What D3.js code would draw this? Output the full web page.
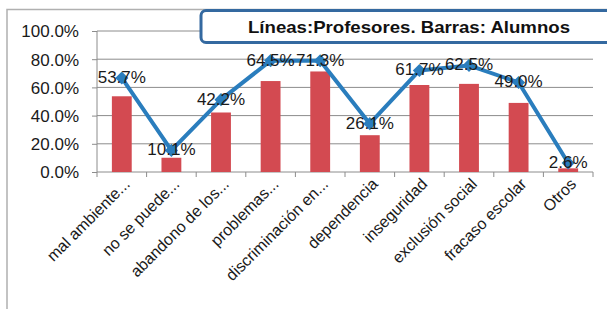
<!DOCTYPE html>
<html>
<head>
<meta charset="utf-8">
<script src="https://cdn.jsdelivr.net/npm/d3@7"></script>
<style>
  body { margin: 0; background: #fff; }
  svg { display: block; font-family: "Liberation Sans", Arial, sans-serif; }
</style>
</head>
<body>
<div id="chart"></div>
<script>
// categories and the two series (bars = alumnos, line = profesores)
var categories = ["mal ambiente...", "no se puede...", "abandono de los...", "problemas...",
  "discriminación en...", "dependencia", "inseguridad", "exclusión social",
  "fracaso escolar", "Otros"];
var alumnos = [53.7, 10.1, 42.2, 64.5, 71.3, 26.1, 61.7, 62.5, 49.0, 2.6];
var profesores = [66.7, 15.3, 51.3, 79.0, 78.9, 34.3, 72.0, 75.6, 63.5, 6.4];
var yTicks = [0, 20, 40, 60, 80, 100];
var title = "Líneas:Profesores. Barras: Alumnos";

var W = 607, H = 309;
var margin = { top: 31, right: 14, bottom: 137, left: 97 },
  width = W - margin.left - margin.right,
  height = H - margin.top - margin.bottom;

var svg = d3.select("#chart").append("svg")
  .attr("width", W)
  .attr("height", H);

// outer chart border (only top and left visible)
svg.append("path")
  .attr("d", "M7,309 L7,9.5 L607,9.5")
  .attr("fill", "none")
  .attr("stroke", "#b0b0b0")
  .attr("stroke-width", 1.5);

var g = svg.append("g")
  .attr("transform", "translate(" + margin.left + "," + margin.top + ")");

var x = d3.scaleBand().domain(categories).range([0, width]);
var y = d3.scaleLinear().domain([0, 100]).range([height, 0]);

// gridlines
g.append("g").selectAll("line")
  .data(yTicks.filter(function(d) { return d > 0; }))
  .enter().append("line")
  .attr("x1", 0).attr("x2", width)
  .attr("y1", function(d) { return y(d); })
  .attr("y2", function(d) { return y(d); })
  .attr("stroke", "#8c8c8c")
  .attr("stroke-width", 1);

// y axis
var yAxis = g.append("g")
  .call(d3.axisLeft(y).tickValues(yTicks).tickSize(5).tickPadding(13)
    .tickFormat(function(d) { return d.toFixed(1) + "%"; }));
yAxis.select(".domain").attr("stroke", "#8c8c8c").attr("d", "M0," + y(100) + "V" + y(0));
yAxis.selectAll(".tick line").attr("stroke", "#8c8c8c");
yAxis.selectAll("text")
  .attr("fill", "#1a1a1a")
  .style("font-size", "17px")
  .attr("dy", "0.35em");

// x axis with ticks at category boundaries
var xAxis = g.append("g")
  .attr("transform", "translate(0," + height + ")");
xAxis.append("line")
  .attr("x1", 0).attr("x2", width)
  .attr("stroke", "#8c8c8c");
xAxis.selectAll(".xt")
  .data(categories.concat(["end"]))
  .enter().append("line")
  .attr("class", "xt")
  .attr("x1", function(d, i) { return i * x.bandwidth(); })
  .attr("x2", function(d, i) { return i * x.bandwidth(); })
  .attr("y1", 0).attr("y2", 5)
  .attr("stroke", "#8c8c8c");
xAxis.selectAll(".xl")
  .data(categories)
  .enter().append("text")
  .attr("class", "xl")
  .attr("text-anchor", "end")
  .attr("fill", "#1a1a1a")
  .style("font-size", "16px")
  .attr("transform", function(d) {
    return "translate(" + (x(d) + x.bandwidth() / 2 + 9) + ",13) rotate(-45)";
  })
  .text(function(d) { return d; });

// bars
g.append("g").selectAll("rect")
  .data(alumnos)
  .enter().append("rect")
  .attr("x", function(d, i) { return x(categories[i]) + x.bandwidth() * 0.3; })
  .attr("width", x.bandwidth() * 0.4)
  .attr("y", function(d) { return y(d); })
  .attr("height", function(d) { return y(0) - y(d); })
  .attr("fill", "#d34a51");

// line
var line = d3.line()
  .x(function(d, i) { return x(categories[i]) + x.bandwidth() / 2; })
  .y(function(d) { return y(d); });

g.append("path")
  .datum(profesores)
  .attr("d", line)
  .attr("fill", "none")
  .attr("stroke", "#2a7dbd")
  .attr("stroke-width", 4)
  .attr("stroke-linejoin", "round");

g.append("g").selectAll("path")
  .data(profesores)
  .enter().append("path")
  .attr("d", d3.symbol().type(d3.symbolDiamond2).size(110))
  .attr("transform", function(d, i) {
    return "translate(" + (x(categories[i]) + x.bandwidth() / 2) + "," + y(d) + ")";
  })
  .attr("fill", "#2a7dbd");

// data labels (alumno values) centred on line markers
g.append("g").selectAll("text")
  .data(alumnos)
  .enter().append("text")
  .attr("text-anchor", "middle")
  .attr("dy", "0.35em")
  .attr("fill", "#1a1a1a")
  .style("font-size", "17px")
  .attr("x", function(d, i) { return x(categories[i]) + x.bandwidth() / 2; })
  .attr("y", function(d, i) { return y(profesores[i]) - 1; })
  .text(function(d) { return d.toFixed(1) + "%"; });

// title box
svg.append("rect")
  .attr("x", 201).attr("y", 10.5)
  .attr("width", 430).attr("height", 32)
  .attr("rx", 5)
  .attr("fill", "#fff")
  .attr("stroke", "#3469a0")
  .attr("stroke-width", 3);

svg.append("text")
  .attr("x", 409).attr("y", 33)
  .attr("text-anchor", "middle")
  .attr("fill", "#111")
  .style("font-size", "17px")
  .style("font-weight", "bold")
  .attr("textLength", 322)
  .attr("lengthAdjust", "spacingAndGlyphs")
  .text(title);
</script>
</body>
</html>
